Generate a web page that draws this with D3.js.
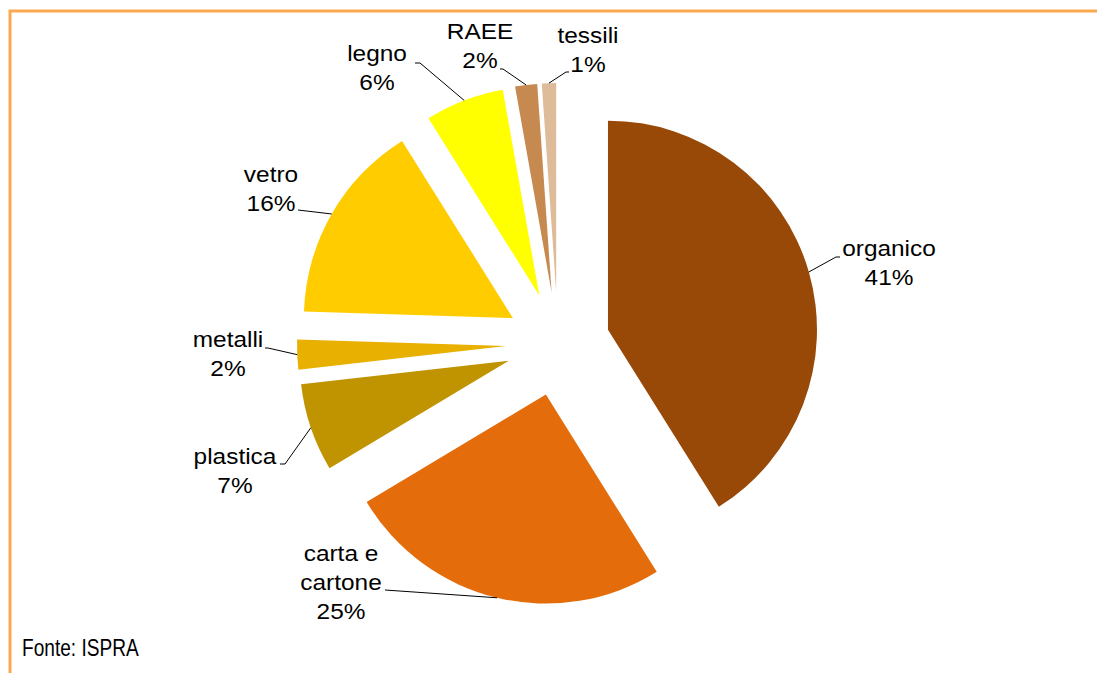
<!DOCTYPE html>
<html>
<head>
<meta charset="utf-8">
<script src="https://d3js.org/d3.v7.min.js"></script>
<style>
  body { margin: 0; background: #fff; }
  text { font-family: "Liberation Sans", Arial, sans-serif; fill: #000; }
</style>
</head>
<body>
<div id="chart"></div>
<script>
var svgWidth = 1097;
var svgHeight = 673;

// data (percent shares)
var categories = ["organico", "carta e cartone", "plastica", "metalli", "vetro", "legno", "RAEE", "tessili"];
var shares = [41.1, 25.3, 6.8, 2.3, 15.6, 6.1, 1.7, 1.1];
var colors = ["#984807", "#E46C0A", "#C09400", "#E8B000", "#FFCC00", "#FFFF00", "#C68A50", "#DEBB99"];
var labelLines = [["organico"], ["carta e", "cartone"], ["plastica"], ["metalli"], ["vetro"], ["legno"], ["RAEE"], ["tessili"]];

// label layout: first baseline centre and leader start (relative to pie centre)
var labelPos = [[331, -88], [-217, 217], [-323, 120], [-330, 3], [-287, -162], [-181, -283], [-78, -305], [30, -301]];
var leaderStart = [[282, -87, 278], [-173, 246, -173], [-278, 120, -273], [-293, 4, -290], [-260, -134, -260], [-143, -281, -138], [-58, -275, -55], [11, -272, 8]];

var cx = 558, cy = 344;
var radius = 209;
var explode = 52;

var svg = d3.select("#chart")
  .append("svg")
  .attr("width", svgWidth)
  .attr("height", svgHeight);

// frame (only top and left edges are visible)
svg.append("rect")
  .attr("x", 10)
  .attr("y", 11)
  .attr("width", 1200)
  .attr("height", 800)
  .attr("fill", "none")
  .attr("stroke", "#F9A94F")
  .attr("stroke-width", 3);

var pie = d3.pie().sort(null).value(d => d);
var arcs = pie(shares);

var arc = d3.arc()
  .innerRadius(0)
  .outerRadius(radius);

var chartGroup = svg.append("g")
  .attr("transform", `translate(${cx}, ${cy})`);

function mid(d) {
  return (d.startAngle + d.endAngle) / 2;
}

chartGroup.selectAll("path.slice")
  .data(arcs)
  .enter()
  .append("path")
  .attr("class", "slice")
  .attr("d", arc)
  .attr("fill", (d, i) => colors[i])
  .attr("transform", d => `translate(${Math.sin(mid(d)) * explode}, ${-Math.cos(mid(d)) * explode})`);

// leader lines
var line = d3.line();
chartGroup.selectAll("path.leader")
  .data(arcs)
  .enter()
  .append("path")
  .attr("class", "leader")
  .attr("fill", "none")
  .attr("stroke", "#000")
  .attr("stroke-width", 1)
  .attr("d", function(d, i) {
    var a = mid(d);
    var end = [Math.sin(a) * (radius + explode), -Math.cos(a) * (radius + explode)];
    var s = leaderStart[i];
    return line([[s[0], s[1]], [s[2], s[1]], end]);
  });

// labels
var labels = chartGroup.selectAll("g.label")
  .data(arcs)
  .enter()
  .append("g")
  .attr("class", "label")
  .attr("transform", (d, i) => `translate(${labelPos[i][0]}, ${labelPos[i][1]}) scale(1.11, 1)`);

labels.each(function(d, i) {
  var g = d3.select(this);
  var lines = labelLines[i].concat([Math.round(shares[i]) + "%"]);
  lines.forEach(function(t, k) {
    g.append("text")
      .attr("x", 0)
      .attr("y", k * 29)
      .attr("text-anchor", "middle")
      .attr("font-size", "22px")
      .text(t);
  });
});

svg.append("text")
  .attr("transform", "translate(22, 656) scale(0.83, 1)")
  .attr("font-size", "23px")
  .text("Fonte: ISPRA");
</script>
</body>
</html>
